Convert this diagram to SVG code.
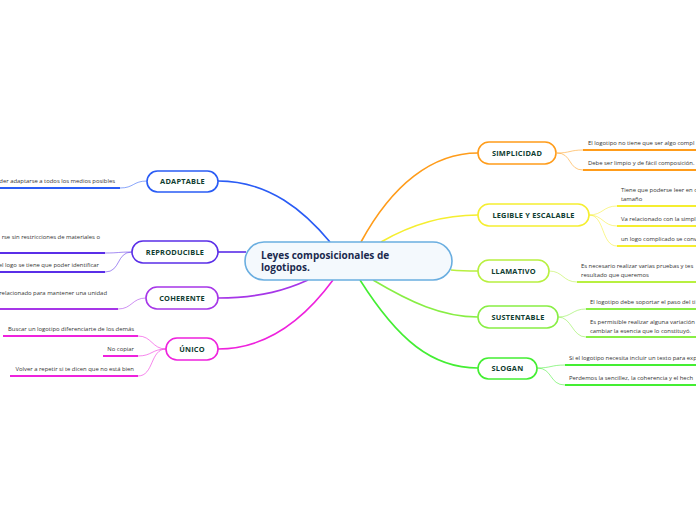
<svg xmlns="http://www.w3.org/2000/svg" width="696" height="520" viewBox="0 0 696 520">
<style>
.bg{fill:#ffffff}
.node{fill:#ffffff;stroke-width:1.6}
.lbl{font-family:"Open Sans","Noto Sans","Liberation Sans",sans-serif;font-size:7.4px;font-weight:700;fill:#0f3d30;text-anchor:middle;letter-spacing:0.2px}
.ctr{font-family:"Open Sans","Noto Sans","Liberation Sans",sans-serif;font-size:10px;font-weight:700;fill:#1b2a4e}
.t{font-family:"Open Sans","Noto Sans","Liberation Sans",sans-serif;font-size:5.9px;fill:#333333}
.te{text-anchor:end}
.main{fill:none;stroke-width:1.6}
.sub{fill:none;stroke-width:1;opacity:0.55}
.ul{fill:none;stroke-width:2}
</style>
<rect class="bg" x="0" y="0" width="696" height="520"/>
<g id="connectors">
  <path class="main" stroke="#2a5cf5" d="M218,181 C270,181 305,212 330,242"/>
  <path class="main" stroke="#5a2ee8" d="M218,252 L246,252"/>
  <path class="main" stroke="#a636e8" d="M218,298 C262,298 288,289 308,280"/>
  <path class="main" stroke="#ee22dd" d="M218,349 C270,349 308,314 333,280"/>
  <path class="main" stroke="#ff9c1a" d="M361,242 C392,185 432,153 478,153"/>
  <path class="main" stroke="#f5ee30" d="M381,242 C412,224 442,215 478,215"/>
  <path class="main" stroke="#b8f040" d="M451,270 C462,271 470,271 478,271"/>
  <path class="main" stroke="#88ee44" d="M373,280 C410,302 442,317 478,317"/>
  <path class="main" stroke="#44ee33" d="M360,280 C398,340 432,368 478,368"/>
  <!-- left children -->
  <path class="sub" stroke="#2a5cf5" d="M147,181 C133,181 134,188 120,188"/>
  <path class="ul" stroke="#2a5cf5" d="M0,188 L120,188"/>
  <path class="sub" stroke="#5a2ee8" d="M132,252 C118,252 119,253 105,253"/>
  <path class="sub" stroke="#5a2ee8" d="M132,252 C116,252 121,272 105,272"/>
  <path class="ul" stroke="#5a2ee8" d="M0,253 L105,253"/>
  <path class="ul" stroke="#5a2ee8" d="M0,272 L105,272"/>
  <path class="sub" stroke="#a636e8" d="M146,298 C132,298 132,309 118,309"/>
  <path class="ul" stroke="#a636e8" d="M0,309 L118,309"/>
  <path class="sub" stroke="#ee22dd" d="M166,349 C152,349 152,336 138,336"/>
  <path class="sub" stroke="#ee22dd" d="M166,349 C152,349 152,356 138,356"/>
  <path class="sub" stroke="#ee22dd" d="M166,349 C150,349 154,376 138,376"/>
  <path class="ul" stroke="#ee22dd" d="M3,336 L138,336"/>
  <path class="ul" stroke="#ee22dd" d="M103,356 L138,356"/>
  <path class="ul" stroke="#ee22dd" d="M10,376 L138,376"/>
  <!-- right children -->
  <path class="sub" stroke="#ff9c1a" d="M557,153 C570,153 570,150 583,150"/>
  <path class="sub" stroke="#ff9c1a" d="M557,153 C572,153 568,170 583,170"/>
  <path class="ul" stroke="#ff9c1a" d="M583,150 L696,150"/>
  <path class="ul" stroke="#ff9c1a" d="M583,170 L696,170"/>
  <path class="sub" stroke="#f5ee30" d="M589,215 C603,215 603,206 617,206"/>
  <path class="sub" stroke="#f5ee30" d="M589,215 C603,215 603,226 617,226"/>
  <path class="sub" stroke="#f5ee30" d="M589,215 C605,215 601,246 617,246"/>
  <path class="ul" stroke="#f5ee30" d="M617,206 L696,206"/>
  <path class="ul" stroke="#f5ee30" d="M617,226 L696,226"/>
  <path class="ul" stroke="#f5ee30" d="M617,246 L696,246"/>
  <path class="sub" stroke="#b8f040" d="M549,271 C563,271 563,282 577,282"/>
  <path class="ul" stroke="#b8f040" d="M577,282 L696,282"/>
  <path class="sub" stroke="#88ee44" d="M558,317 C572,317 572,309 586,309"/>
  <path class="sub" stroke="#88ee44" d="M558,317 C572,317 572,337 586,337"/>
  <path class="ul" stroke="#88ee44" d="M586,309 L696,309"/>
  <path class="ul" stroke="#88ee44" d="M586,337 L696,337"/>
  <path class="sub" stroke="#44ee33" d="M537,368 C551,368 551,365 565,365"/>
  <path class="sub" stroke="#44ee33" d="M537,368 C553,368 549,385 565,385"/>
  <path class="ul" stroke="#44ee33" d="M565,365 L696,365"/>
  <path class="ul" stroke="#44ee33" d="M565,385 L696,385"/>
</g>
<g id="center">
  <rect x="245" y="242" width="207" height="38" rx="19" fill="#f4f9fd" stroke="#6aaee0" stroke-width="1.6"/>
  <text class="ctr" x="261" y="258.5">Leyes composicionales de</text>
  <text class="ctr" x="261" y="271">logotipos.</text>
</g>
<g id="adaptable">
  <rect class="node" x="147" y="171" width="71" height="21" rx="10.5" stroke="#2a5cf5"/>
  <text class="lbl" x="182.5" y="184.3">ADAPTABLE</text>
  <text class="t te" x="115" y="182.8">der adaptarse a todos los medios posibles</text>
</g>
<g id="reproducible">
  <rect class="node" x="132" y="241" width="86" height="22" rx="11" stroke="#5a2ee8"/>
  <text class="lbl" x="175" y="254.8">REPRODUCIBLE</text>
  <text class="t te" x="100" y="238.8">rse sin restricciones de materiales o</text>
  <text class="t te" x="99" y="267">el logo se tiene que poder identificar</text>
</g>
<g id="coherente">
  <rect class="node" x="146" y="287" width="72" height="22" rx="11" stroke="#a636e8"/>
  <text class="lbl" x="182" y="300.8">COHERENTE</text>
  <text class="t te" x="107" y="295.3">relacionado para mantener una unidad</text>
</g>
<g id="unico">
  <rect class="node" x="166" y="338" width="52" height="22" rx="11" stroke="#ee22dd"/>
  <text class="lbl" x="192" y="351.8">ÚNICO</text>
  <text class="t te" x="134" y="331">Buscar un logotipo diferenciarte de los demás</text>
  <text class="t te" x="134" y="351">No copiar</text>
  <text class="t te" x="134" y="371.3">Volver a repetir si te dicen que no está bien</text>
</g>
<g id="simplicidad">
  <rect class="node" x="478" y="142" width="78" height="22" rx="11" stroke="#ff9c1a"/>
  <text class="lbl" x="517" y="155.8">SIMPLICIDAD</text>
  <text class="t" x="588" y="144.8">El logotipo no tiene que ser algo compl</text>
  <text class="t" x="588" y="164.5">Debe ser limpio y de fácil composición.</text>
</g>
<g id="legible">
  <rect class="node" x="478" y="204" width="111" height="22" rx="11" stroke="#f5ee30"/>
  <text class="lbl" x="533.5" y="217.8">LEGIBLE Y ESCALABLE</text>
  <text class="t" x="621" y="192">Tiene que poderse leer en c</text>
  <text class="t" x="621" y="201">tamaño</text>
  <text class="t" x="621" y="220.5">Va relacionado con la simpl</text>
  <text class="t" x="621" y="241">un logo complicado se conv</text>
</g>
<g id="llamativo">
  <rect class="node" x="478" y="260" width="71" height="22" rx="11" stroke="#b8f040"/>
  <text class="lbl" x="513.5" y="273.8">LLAMATIVO</text>
  <text class="t" x="581" y="267.7">Es necesario realizar varias pruebas y tes</text>
  <text class="t" x="581" y="277">resultado que queremos</text>
</g>
<g id="sustentable">
  <rect class="node" x="478" y="306" width="80" height="22" rx="11" stroke="#88ee44"/>
  <text class="lbl" x="518" y="319.8">SUSTENTABLE</text>
  <text class="t" x="590" y="304.3">El logotipo debe soportar el paso del ti</text>
  <text class="t" x="590" y="323.7">Es permisible realizar alguna variación</text>
  <text class="t" x="590" y="332.7">cambiar la esencia que lo constituyó.</text>
</g>
<g id="slogan">
  <rect class="node" x="478" y="358" width="59" height="21" rx="10.5" stroke="#44ee33"/>
  <text class="lbl" x="507.5" y="371.3">SLOGAN</text>
  <text class="t" x="569" y="360.3">Si el logotipo necesita incluir un texto para exp</text>
  <text class="t" x="569" y="379.7">Perdemos la sencillez, la coherencia y el hech</text>
</g>
</svg>
